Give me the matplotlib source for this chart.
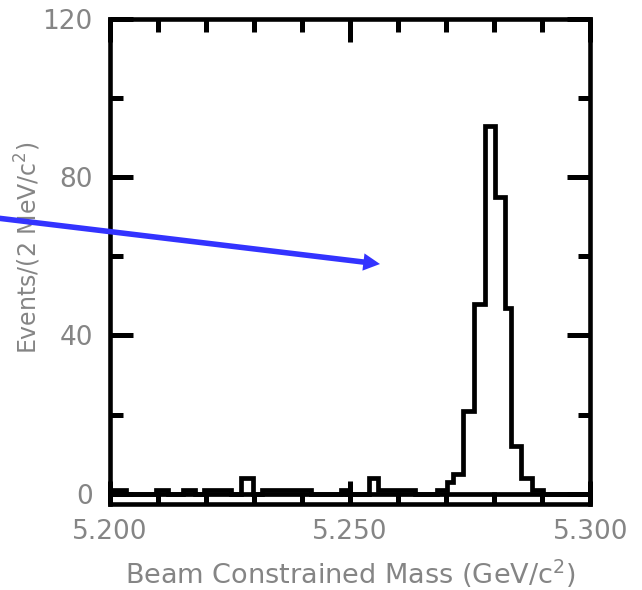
import numpy as np
import matplotlib.pyplot as plt
from matplotlib.ticker import MultipleLocator, FixedLocator

plt.rcParams['font.family'] = 'DejaVu Sans'
plt.rcParams['font.size'] = 19

# step histogram: bin edges (GeV/c^2) and entries per bin
edges = [5.2000, 5.2034, 5.2097, 5.2121, 5.2153, 5.2178, 5.2197, 5.2252,
         5.2274, 5.2298, 5.2318, 5.2419, 5.2481, 5.2491, 5.2540, 5.2558,
         5.2635, 5.2682, 5.2703, 5.2714, 5.2736, 5.2758, 5.2781, 5.2802,
         5.2823, 5.2835, 5.2856, 5.2879, 5.2901, 5.3000]
counts = [1, 0, 1, 0, 1, 0, 1, 0, 4, 0, 1, 0, 1, 0, 4, 1,
          0, 1, 3, 5, 21, 48, 93, 75, 47, 12, 4, 1, 0]

x_ticks = [5.200, 5.250, 5.300]
y_ticks = [0, 40, 80, 120]

# arrow drawn across the figure (figure fraction)
arrow_tail = (-0.005, 0.6305)
arrow_head = (0.5919, 0.5525)

txt = '#858585'
lw = 3.4

fig = plt.figure(figsize=(6.42, 5.9), dpi=100)
ax = fig.add_axes([0.1706, 0.1458, 0.7487, 0.8225])

ax.stairs(counts, edges, color='k', lw=lw)
ax.axhline(0, color='k', lw=lw)

ax.set_xlim(5.2, 5.3)
ax.set_ylim(-2.6, 120)

ax.xaxis.set_major_locator(FixedLocator(x_ticks))
ax.xaxis.set_minor_locator(MultipleLocator(0.01))
ax.yaxis.set_major_locator(FixedLocator(y_ticks))
ax.yaxis.set_minor_locator(MultipleLocator(20))
ax.set_xticklabels(['%.3f' % v for v in x_ticks])
ax.set_yticklabels([str(v) for v in y_ticks])

ax.tick_params(which='both', direction='in', top=True, right=True,
               width=3.6, colors='k', labelcolor=txt)
ax.tick_params(which='major', length=16.5)
ax.tick_params(which='minor', length=9)
ax.tick_params(axis='x', pad=11)
ax.tick_params(axis='y', pad=12)
for s in ax.spines.values():
    s.set_linewidth(3.3)

ax.set_xlabel(r'Beam Constrained Mass (GeV/c$^2$)', color=txt,
              fontsize=19.5, labelpad=9)
ax.set_ylabel(r'Events/(2 MeV/c$^2$)', color=txt, fontsize=17)
ax.yaxis.set_label_coords(-0.138, 0.527)

ax.annotate('', xy=arrow_head, xycoords='figure fraction',
            xytext=arrow_tail, textcoords='figure fraction',
            arrowprops=dict(facecolor='#3333ff', edgecolor='none', width=4,
                            headwidth=12.5, headlength=12, shrink=0),
            annotation_clip=False, zorder=5)

fig.savefig('out.png', dpi=100)
